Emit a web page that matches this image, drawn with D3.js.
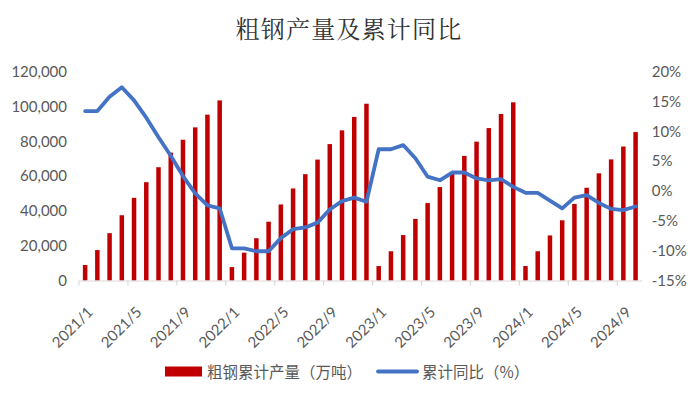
<!DOCTYPE html>
<html><head><meta charset="utf-8">
<script src="https://cdn.jsdelivr.net/npm/d3@7"></script>
<style>
body{margin:0;background:#fff;}
svg{display:block;}
</style></head>
<body>
<svg id="chart" width="700" height="398"></svg>
<script>
const months = ["2021/1","2021/2","2021/3","2021/4","2021/5","2021/6","2021/7","2021/8","2021/9","2021/10","2021/11","2021/12",
"2022/1","2022/2","2022/3","2022/4","2022/5","2022/6","2022/7","2022/8","2022/9","2022/10","2022/11","2022/12",
"2023/1","2023/2","2023/3","2023/4","2023/5","2023/6","2023/7","2023/8","2023/9","2023/10","2023/11","2023/12",
"2024/1","2024/2","2024/3","2024/4","2024/5","2024/6","2024/7","2024/8","2024/9","2024/10"];
const output = [8900,17500,27200,37500,47500,56500,65100,73500,80900,88000,95300,103500,
7700,16000,24300,33800,43700,52900,61100,69500,78400,86300,94000,101600,
8300,16800,26100,35400,44500,53700,62200,71600,79800,87600,95700,102400,
8300,16800,25900,34600,44000,53300,61600,69600,77000,85300];
const yoy = [13.4,13.4,15.8,17.4,15.2,12.3,9.0,5.9,2.5,-0.4,-2.4,-2.9,
-9.6,-9.6,-10.1,-10.1,-7.9,-6.4,-6.1,-5.3,-3.1,-1.7,-1.1,-1.8,
7.0,7.0,7.7,5.5,2.4,1.8,3.1,3.1,2.1,1.8,2.0,0.7,
-0.3,-0.3,-1.6,-2.9,-1.1,-0.7,-2.0,-3.0,-3.2,-2.6];
const leftTicks = [0,20000,40000,60000,80000,100000,120000];
const rightTicks = [-15,-10,-5,0,5,10,15,20];
const xLabels = ["2021/1","2021/5","2021/9","2022/1","2022/5","2022/9","2023/1","2023/5","2023/9","2024/1","2024/5","2024/9"];
const title = "粗钢产量及累计同比";
const seriesNames = ["粗钢累计产量（万吨）","累计同比（%）"];

const svg = d3.select("#chart");
const mLeft = 79, mRight = 641.7, mTop = 71.7, mBottom = 280.5;
const numFont = "Lato, 'Liberation Sans', Arial, sans-serif";
const cjkFont = "'Noto Sans CJK SC', sans-serif";
const grey = "#595959";

const x = d3.scaleBand().domain(months).range([mLeft, mRight]).paddingInner(0).paddingOuter(0);
const yL = d3.scaleLinear().domain([0,120000]).range([mBottom, mTop]);
const yR = d3.scaleLinear().domain([-15,20]).range([mBottom, mTop]);

// title
svg.append("text").attr("x",349).attr("y",38).attr("text-anchor","middle")
  .attr("font-family","'Noto Serif CJK SC','Noto Sans CJK SC',serif").attr("font-size",24)
  .attr("letter-spacing",1.2).attr("fill","#333").text(title);

// bars
const bw = 4.5;
svg.append("g").selectAll("rect").data(output).join("rect")
  .attr("x",(d,i)=>x(months[i]) + x.bandwidth()/2 - bw/2)
  .attr("y",d=>yL(d)).attr("width",bw).attr("height",d=>yL(0)-yL(d))
  .attr("fill","#C00000");

// bottom axis
const xAxis = d3.axisBottom(x).tickValues(xLabels).tickSize(0).tickFormat(d=>d);
const gx = svg.append("g").attr("transform",`translate(0,${mBottom})`).call(xAxis);
gx.select(".domain").attr("stroke","#d9d9d9").attr("stroke-width",1.2);
gx.selectAll(".tick text")
  .attr("font-family",numFont).attr("font-size",15).attr("fill",grey)
  .attr("text-anchor","end")
  .attr("transform","translate(5,29) rotate(-45)")
  .attr("dy","0.35em").attr("y",0).attr("x",0);
// boundary tick marks every 4 categories
const tickPos = d3.range(0, months.length, 4).map(i => x(months[i]));
svg.append("g").selectAll("line").data(tickPos).join("line")
  .attr("x1",d=>d).attr("x2",d=>d).attr("y1",mBottom).attr("y2",mBottom+5)
  .attr("stroke","#d9d9d9").attr("stroke-width",1.2);

// left axis
const gl = svg.append("g").attr("transform",`translate(${mLeft},0)`)
  .call(d3.axisLeft(yL).tickValues(leftTicks).tickSize(0).tickPadding(12).tickFormat(d3.format(",")));
gl.select(".domain").remove();
gl.selectAll("text").attr("font-family",numFont).attr("font-size",15).attr("fill",grey);

// right axis
const gr = svg.append("g").attr("transform",`translate(${mRight},0)`)
  .call(d3.axisRight(yR).tickValues(rightTicks).tickSize(0).tickPadding(10).tickFormat(d=>d+"%"));
gr.select(".domain").remove();
gr.selectAll("text").attr("font-family",numFont).attr("font-size",15).attr("fill",grey);

// line
const line = d3.line().x((d,i)=>x(months[i])+x.bandwidth()/2).y(d=>yR(d));
svg.append("path").datum(yoy).attr("d",line).attr("fill","none")
  .attr("stroke","#4472C4").attr("stroke-width",3.8).attr("stroke-linejoin","round").attr("stroke-linecap","round");

// legend
const lg = svg.append("g");
lg.append("rect").attr("x",165).attr("y",366.5).attr("width",37).attr("height",10).attr("fill","#C00000");
lg.append("text").attr("x",207).attr("y",377.5).attr("font-family",cjkFont).attr("font-size",15.5).attr("fill",grey).text(seriesNames[0]);
lg.append("line").attr("x1",378).attr("x2",417).attr("y1",371.5).attr("y2",371.5)
  .attr("stroke","#4472C4").attr("stroke-width",3.8).attr("stroke-linecap","round");
lg.append("text").attr("x",422).attr("y",377.5).attr("font-family",cjkFont).attr("font-size",15.5).attr("fill",grey).text(seriesNames[1]);
</script>
</body></html>
